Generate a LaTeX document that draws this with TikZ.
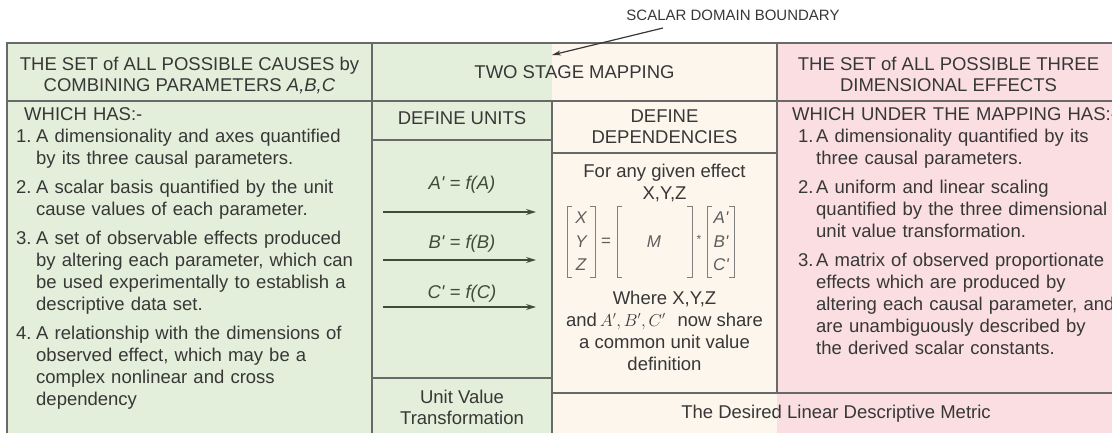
\documentclass[tikz,border=0pt]{standalone}
\usepackage{fontspec}
\setmainfont{Liberation Sans}
\usetikzlibrary{arrows.meta}
\definecolor{cgreen}{RGB}{227,239,218}
\definecolor{cbeige}{RGB}{252,246,237}
\definecolor{cpink}{RGB}{250,222,226}
\definecolor{cline}{RGB}{105,105,105}
\definecolor{ctext}{RGB}{55,55,55}
\definecolor{cform}{RGB}{62,76,58}
\definecolor{cmat}{RGB}{95,95,95}
\newlength\myhang
\newcommand\myitem[1]{\par\noindent\hangindent=\myhang\hangafter=1\makebox[\myhang][l]{#1}\ignorespaces}
\tikzset{
  gridline/.style={draw=cline, line width=1.6pt},
  txt/.style={text=ctext, font=\fontsize{18.5}{22}\selectfont, inner sep=0pt, anchor=base},
  listbox/.style={text=ctext, font=\fontsize{18.5}{22}\selectfont, inner sep=0pt, anchor=north west, text width=400pt},
  formula/.style={text=cform, font=\fontsize{18.5}{22}\selectfont\itshape, inner sep=0pt, anchor=base},
  matent/.style={text=cmat, font=\fontsize{17}{20}\selectfont\itshape, inner sep=0pt, anchor=center},
  brk/.style={draw=cmat!80, line width=1pt},
  arr/.style={draw=cform, line width=1.3pt, -{Stealth[length=10pt,width=6pt]}},
  ptr/.style={draw=ctext, line width=1.2pt, -{Stealth[length=9pt,width=5pt]}}
}
\begin{document}
\begin{tikzpicture}[x=1pt,y=-1pt]
\useasboundingbox (0,0) rectangle (1112,433);
\begin{scope}
\clip (0,0) rectangle (1112,433);
% backgrounds
\fill[cgreen] (7,43) rectangle (552,440);
\fill[cbeige] (552,43) rectangle (777,440);
\fill[cpink] (777,43) rectangle (1125,440);
% grid
\draw[gridline] (7,440) -- (7,43) -- (1125,43);
\draw[gridline] (7,101) -- (1125,101);
\draw[gridline] (372,43) -- (372,440);
\draw[gridline] (552,101) -- (552,440);
\draw[gridline] (777,43) -- (777,393);
\draw[gridline] (372,140) -- (552,140);
\draw[gridline] (552,153) -- (777,153);
\draw[gridline] (372,378) -- (552,378);
\draw[gridline] (552,393) -- (1125,393);

% pointer label
\node[txt, font=\fontsize{15}{18}\selectfont] (sdb) at (733,21) {SCALAR DOMAIN BOUNDARY};
\coordinate (sdbtail) at (663,28);
\coordinate (sdbtip) at (552,55);
\draw[ptr] (sdbtail) -- (sdbtip);

% header row
\node[txt] (h1a) at (189.5,71) {THE SET of ALL POSSIBLE CAUSES by};
\node[txt] (h1b) at (189.5,92) {COMBINING PARAMETERS \textit{A,B,C}};
\node[txt] (h2) at (574.5,78.5) {TWO STAGE MAPPING};
\node[txt] (h3a) at (948.5,71) {THE SET of ALL POSSIBLE THREE};
\node[txt] (h3b) at (948.5,92) {DIMENSIONAL EFFECTS};

% column 1 list
\node[listbox] (c1list) at (16,106) {\setlength\parindent{0pt}\setlength\parskip{7pt}\setlength\myhang{20pt}%
\rule{0pt}{14pt}\hspace*{8pt}WHICH HAS:-\par\vspace{-7pt}%
\myitem{1.}A dimensionality and axes quantified\newline by its three causal parameters.
\myitem{2.}A scalar basis quantified by the unit\newline cause values of each parameter.
\myitem{3.}A set of observable effects produced\newline by altering each parameter, which can\newline be used experimentally to establish a\newline descriptive data set.
\myitem{4.}A relationship with the dimensions of\newline observed effect, which may be a\newline complex nonlinear and cross\newline dependency\par};

% column 3 list
\node[listbox] (c3list) at (798,106) {\setlength\parindent{0pt}\setlength\parskip{7pt}\setlength\myhang{18pt}%
\rule{0pt}{14pt}\hspace*{-6pt}WHICH UNDER THE MAPPING HAS:-\par\vspace{-7pt}%
\myitem{1.}A dimensionality quantified by its\newline three causal parameters.
\myitem{2.}A uniform and linear scaling\newline quantified by the three dimensional\newline unit value transformation.
\myitem{3.}A matrix of observed proportionate\newline effects which are produced by\newline altering each causal parameter, and\newline are unambiguously described by\newline the derived scalar constants.\par};

% define units
\node[txt] (du) at (462,125) {DEFINE UNITS};
\node[formula] (fa) at (462,189.5) {A\textquotesingle{} = f(A)};
\node[formula] (fb) at (462,248) {B\textquotesingle{} = f(B)};
\node[formula] (fc) at (462,298) {C\textquotesingle{} = f(C)};
\coordinate (a1s) at (383,212); \coordinate (a1e) at (536,212);
\coordinate (a2s) at (383,260); \coordinate (a2e) at (536,260);
\coordinate (a3s) at (383,307); \coordinate (a3e) at (536,307);
\draw[arr] (a1s) -- (a1e);
\draw[arr] (a2s) -- (a2e);
\draw[arr] (a3s) -- (a3e);
\node[txt] (uv1) at (462,403.5) {Unit Value};
\node[txt] (uv2) at (462,424.5) {Transformation};

% define dependencies
\node[txt] (dd1) at (664.5,122.5) {DEFINE};
\node[txt] (dd2) at (664.5,143.5) {DEPENDENCIES};
\node[txt] (fg1) at (664.5,178) {For any given effect};
\node[txt] (fg2) at (664.5,200) {X,Y,Z};
% matrix brackets
\draw[brk] (572,207) -- (567,207) -- (567,277) -- (572,277);
\draw[brk] (590,207) -- (595,207) -- (595,277) -- (590,277);
\draw[brk] (622,207) -- (617,207) -- (617,277) -- (622,277);
\draw[brk] (687,207) -- (692,207) -- (692,277) -- (687,277);
\draw[brk] (712,207) -- (707,207) -- (707,277) -- (712,277);
\draw[brk] (729,207) -- (734,207) -- (734,277) -- (729,277);
\node[matent] (mx) at (581,218) {X};
\node[matent] (my) at (581,241.5) {Y};
\node[matent] (mz) at (581,265) {Z};
\node[matent, font=\fontsize{17}{20}\selectfont] (meq) at (606,242) {=};
\node[matent] (mm) at (654,242) {M};
\node[matent, font=\fontsize{12}{14}\selectfont] (mst) at (699,239) {*};
\node[matent] (ma) at (721,218) {A\textquotesingle};
\node[matent] (mb) at (721,241.5) {B\textquotesingle};
\node[matent] (mc) at (721,265) {C\textquotesingle};
\node[txt] (w1) at (664.5,304) {Where X,Y,Z};
\node[txt] (w2) at (664.5,326) {and\,{\fontsize{16}{16}\selectfont$A',B',C'$}\hspace{12pt}now share};
\node[txt] (w3) at (664.5,348) {a common unit value};
\node[txt] (w4) at (664.5,370) {definition};

% bottom row
\node[txt] (metric) at (836,418.5) {The Desired Linear Descriptive Metric};
\end{scope}
\end{tikzpicture}
\end{document}
